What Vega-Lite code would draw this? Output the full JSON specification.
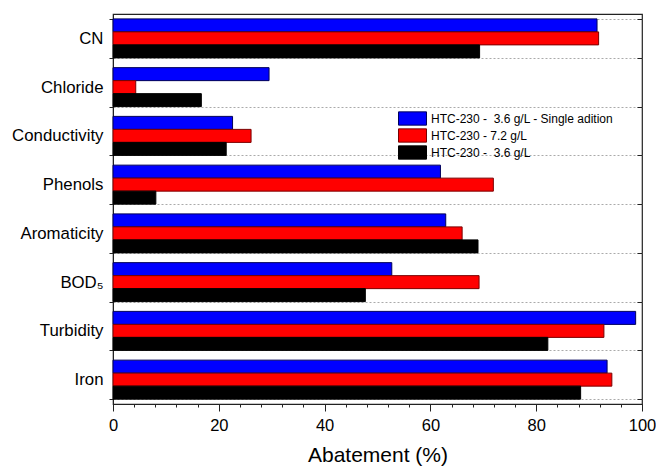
{
  "$schema": "https://vega.github.io/schema/vega-lite/v6.json",
  "autosize": "none",
  "padding": {"left": 113, "top": 14, "right": 14, "bottom": 62},
  "width": 529,
  "height": 390,
  "config": {
    "font": "Liberation Sans",
    "view": {"stroke": "#222", "strokeWidth": 1.2},
    "axis": {"labelColor": "#000", "titleColor": "#000", "domainColor": "#222", "tickColor": "#222", "labelFont": "Liberation Sans", "titleFont": "Liberation Sans"}
  },
  "data": {
    "values": [
      {"category": "CN", "series": "HTC-230 - 3.6 g/L - Single adition", "value": 91.5},
      {"category": "CN", "series": "HTC-230 - 7.2 g/L", "value": 91.8},
      {"category": "CN", "series": "HTC-230 - 3.6 g/L", "value": 69.3},
      {"category": "Chloride", "series": "HTC-230 - 3.6 g/L - Single adition", "value": 29.5},
      {"category": "Chloride", "series": "HTC-230 - 7.2 g/L", "value": 4.3},
      {"category": "Chloride", "series": "HTC-230 - 3.6 g/L", "value": 16.7},
      {"category": "Conductivity", "series": "HTC-230 - 3.6 g/L - Single adition", "value": 22.6},
      {"category": "Conductivity", "series": "HTC-230 - 7.2 g/L", "value": 26.1},
      {"category": "Conductivity", "series": "HTC-230 - 3.6 g/L", "value": 21.4},
      {"category": "Phenols", "series": "HTC-230 - 3.6 g/L - Single adition", "value": 61.9},
      {"category": "Phenols", "series": "HTC-230 - 7.2 g/L", "value": 71.9},
      {"category": "Phenols", "series": "HTC-230 - 3.6 g/L", "value": 8.1},
      {"category": "Aromaticity", "series": "HTC-230 - 3.6 g/L - Single adition", "value": 62.9},
      {"category": "Aromaticity", "series": "HTC-230 - 7.2 g/L", "value": 66.0},
      {"category": "Aromaticity", "series": "HTC-230 - 3.6 g/L", "value": 69.0},
      {"category": "BOD₅", "series": "HTC-230 - 3.6 g/L - Single adition", "value": 52.7},
      {"category": "BOD₅", "series": "HTC-230 - 7.2 g/L", "value": 69.2},
      {"category": "BOD₅", "series": "HTC-230 - 3.6 g/L", "value": 47.7},
      {"category": "Turbidity", "series": "HTC-230 - 3.6 g/L - Single adition", "value": 98.8},
      {"category": "Turbidity", "series": "HTC-230 - 7.2 g/L", "value": 92.8},
      {"category": "Turbidity", "series": "HTC-230 - 3.6 g/L", "value": 82.2},
      {"category": "Iron", "series": "HTC-230 - 3.6 g/L - Single adition", "value": 93.4},
      {"category": "Iron", "series": "HTC-230 - 7.2 g/L", "value": 94.3},
      {"category": "Iron", "series": "HTC-230 - 3.6 g/L", "value": 88.4}
    ]
  },
  "encoding": {
    "x": {
      "field": "value",
      "type": "quantitative",
      "scale": {"domain": [0, 100], "nice": false},
      "axis": {
        "title": "Abatement (%)",
        "titleFontSize": 21,
        "titleFontWeight": "normal",
        "titlePadding": 11,
        "values": [0, 4, 8, 12, 16, 20, 24, 28, 32, 36, 40, 44, 48, 52, 56, 60, 64, 68, 72, 76, 80, 84, 88, 92, 96, 100],
        "labelExpr": "datum.value % 20 === 0 ? datum.label : ''",
        "tickSize": {"condition": {"test": "datum.value % 20 === 0", "value": 7}, "value": 3},
        "labelFontSize": 16.5,
        "labelPadding": 6,
        "labelFlush": false,
        "labelOverlap": false,
        "grid": false
      }
    },
    "y": {
      "field": "category",
      "type": "nominal",
      "sort": ["CN", "Chloride", "Conductivity", "Phenols", "Aromaticity", "BOD₅", "Turbidity", "Iron"],
      "scale": {"paddingInner": 0.2, "paddingOuter": 0.1},
      "axis": {
        "title": null,
        "labelFontSize": 16.8,
        "labelPadding": 6,
        "tickSize": 4,
        "tickBand": "extent",
        "grid": true,
        "gridColor": "#aaa",
        "gridDash": [2, 2],
        "gridWidth": 1
      }
    },
    "yOffset": {
      "field": "series",
      "type": "nominal",
      "sort": ["HTC-230 - 3.6 g/L - Single adition", "HTC-230 - 7.2 g/L", "HTC-230 - 3.6 g/L"],
      "scale": {"paddingInner": 0, "paddingOuter": 0}
    },
    "fill": {
      "field": "series",
      "type": "nominal",
      "scale": {
        "domain": ["HTC-230 - 3.6 g/L - Single adition", "HTC-230 - 7.2 g/L", "HTC-230 - 3.6 g/L"],
        "range": ["#0000FF", "#FF0000", "#000000"]
      },
      "legend": {
        "title": null,
        "orient": "none",
        "legendX": 285,
        "legendY": 97,
        "symbolType": "M-1,-0.95H3V0.95H-1Z",
        "symbolSize": 196,
        "symbolStrokeWidth": 1,
        "labelFontSize": 12,
        "labelColor": "#000",
        "labelOffset": 18,
        "labelLimit": 0,
        "rowPadding": -3.7,
        "labelExpr": "replace(datum.label, 'HTC-230 - 3', 'HTC-230 -\u00a0 3')"
      }
    },
    "stroke": {
      "field": "series",
      "type": "nominal",
      "scale": {
        "domain": ["HTC-230 - 3.6 g/L - Single adition", "HTC-230 - 7.2 g/L", "HTC-230 - 3.6 g/L"],
        "range": ["#00005a", "#7a0000", "#000000"]
      },
      "legend": null
    }
  },
  "layer": [
    {
      "mark": {"type": "bar", "strokeWidth": 1}
    },
    {
      "mark": {"type": "bar", "opacity": 0},
      "encoding": {
        "y": {
          "field": "category",
          "type": "nominal",
          "sort": ["CN", "Chloride", "Conductivity", "Phenols", "Aromaticity", "BOD₅", "Turbidity", "Iron"],
          "axis": {"orient": "right", "title": null, "labels": false, "grid": false, "tickBand": "extent", "tickSize": -5, "domain": false}
        }
      }
    }
  ],
  "resolve": {"axis": {"y": "independent"}}
}
